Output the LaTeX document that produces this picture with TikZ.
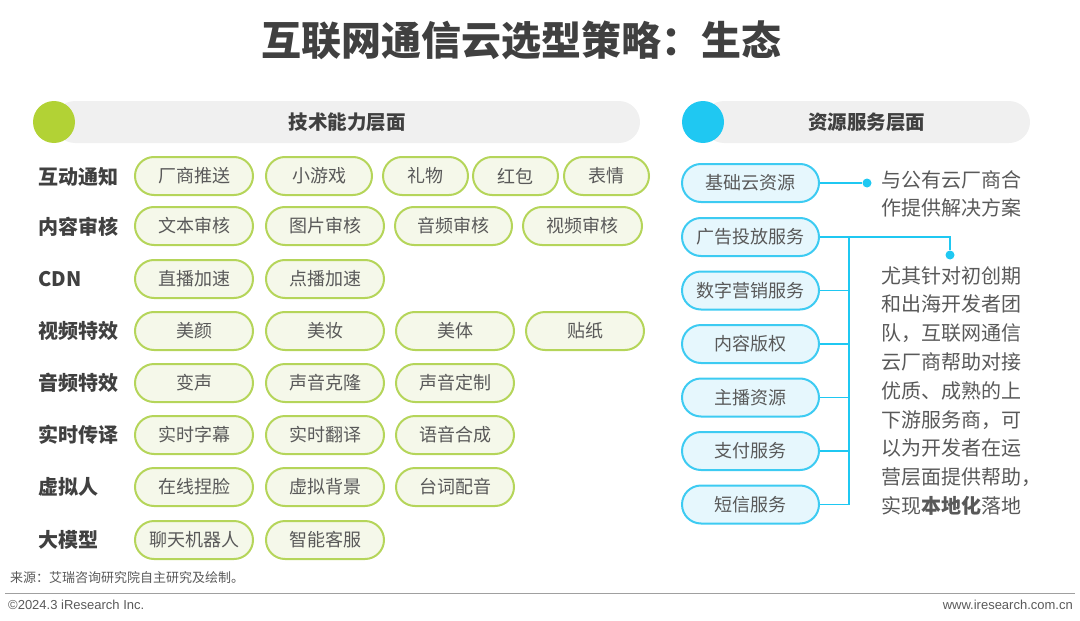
\documentclass[tikz,border=0pt]{standalone}
\usepackage{fontspec}
\setmainfont{Noto Sans CJK SC}
\newfontfamily\footfont{Liberation Sans}
\usepackage{tikz}
\usetikzlibrary{positioning}
\definecolor{pillgreen}{HTML}{B5D55A}
\definecolor{pillfill}{HTML}{F5F8EA}
\definecolor{dotgreen}{HTML}{B2D235}
\definecolor{pillblue}{HTML}{3DCBF2}
\definecolor{bluefill}{HTML}{E6F7FD}
\definecolor{dotblue}{HTML}{1FC8F2}
\definecolor{bargray}{HTML}{F0F0F0}
\definecolor{txtgray}{HTML}{595959}
\definecolor{lblgray}{HTML}{404040}
\definecolor{rulegray}{HTML}{A0A0A0}
\tikzstyle{pill}=[draw=pillgreen,fill=pillfill,line width=2pt,rectangle,rounded corners=19pt,minimum width=118pt,minimum height=38pt,inner sep=0pt,text=txtgray,font=\fontsize{18}{20}\selectfont]
\tikzstyle{bpill}=[pill,draw=pillblue,fill=bluefill,minimum width=137pt]
\tikzstyle{lbl}=[anchor=west,inner sep=0pt,text=lblgray,font=\bfseries\fontsize{20}{22}\selectfont]
\tikzstyle{bar}=[fill=bargray,rectangle,rounded corners=21pt,minimum height=42pt,inner sep=0pt,text=lblgray,font=\bfseries\fontsize{19.5}{21}\selectfont]
\tikzstyle{ball}=[circle,inner sep=0pt,minimum size=42pt]
\tikzstyle{dot}=[circle,fill=dotblue,inner sep=0pt,minimum size=9pt]
\tikzstyle{link}=[draw=dotblue,line width=1.5pt]
\tikzstyle{note}=[anchor=north west,inner sep=0pt,align=left,text=txtgray,font=\fontsize{20}{28.8}\selectfont]

\begin{document}
\begin{tikzpicture}[x=1pt,y=-1pt]
  \useasboundingbox (0,0) rectangle (1080,621);
  \node[text=lblgray,font=\bfseries\fontsize{40}{42}\selectfont] (title) at (521,40) {互联网通信云选型策略：生态};

  % left header
  \node[bar,minimum width=586pt] (techbar) at (347,122) {技术能力层面};
  \node[ball,fill=dotgreen] (techball) at (54,122) {};
  % right header
  \node[bar,minimum width=327pt] (resbar) at (866.5,122) {资源服务层面};
  \node[ball,fill=dotblue] (resball) at (703,122) {};

  % 互动通知
  \node[lbl] (l1) at (38,177) {互动通知};
  \node[pill] (push) at (194,176) {厂商推送};
  \node[pill,minimum width=106pt,right of=push,node distance=125pt] (game) {小游戏};
  \node[pill,minimum width=85pt,right of=game,node distance=106.5pt] (gift) {礼物};
  \node[pill,minimum width=85pt,right of=gift,node distance=90pt] (redpack) {红包};
  \node[pill,minimum width=85pt,right of=redpack,node distance=91pt] (emoji) {表情};

  % 内容审核
  \node[lbl] (l2) at (38,227) {内容审核};
  \node[pill] (txtaudit) at (194,226) {文本审核};
  \node[pill,right of=txtaudit,node distance=131pt] (imgaudit) {图片审核};
  \node[pill,minimum width=117pt,right of=imgaudit,node distance=128.5pt] (sndaudit) {音频审核};
  \node[pill,minimum width=119pt,right of=sndaudit,node distance=129pt] (vidaudit) {视频审核};

  % CDN
  \node[lbl] (l3) at (38,279) {CDN};
  \node[pill] (livecdn) at (194,279) {直播加速};
  \node[pill,right of=livecdn,node distance=131pt] (vodcdn) {点播加速};

  % 视频特效
  \node[lbl] (l4) at (38,331) {视频特效};
  \node[pill] (beauty) at (194,331) {美颜};
  \node[pill,right of=beauty,node distance=131pt] (makeup) {美妆};
  \node[pill,right of=makeup,node distance=130pt] (body) {美体};
  \node[pill,right of=body,node distance=130pt] (sticker) {贴纸};

  % 音频特效
  \node[lbl] (l5) at (38,383) {音频特效};
  \node[pill] (voice) at (194,383) {变声};
  \node[pill,right of=voice,node distance=131pt] (clone) {声音克隆};
  \node[pill,right of=clone,node distance=130pt] (custom) {声音定制};

  % 实时传译
  \node[lbl] (l6) at (38,435) {实时传译};
  \node[pill] (caption) at (194,435) {实时字幕};
  \node[pill,right of=caption,node distance=131pt] (translate) {实时翻译};
  \node[pill,right of=translate,node distance=130pt] (tts) {语音合成};

  % 虚拟人
  \node[lbl] (l7) at (38,487) {虚拟人};
  \node[pill] (face) at (194,487) {在线捏脸};
  \node[pill,right of=face,node distance=131pt] (bg) {虚拟背景};
  \node[pill,right of=bg,node distance=130pt] (dub) {台词配音};

  % 大模型
  \node[lbl] (l8) at (38,540) {大模型};
  \node[pill] (chatbot) at (194,540) {聊天机器人};
  \node[pill,right of=chatbot,node distance=131pt] (service) {智能客服};

  % resource column
  \node[bpill] (cloud) at (750.5,183) {基础云资源};
  \node[bpill,below of=cloud,node distance=54pt] (ads) {广告投放服务};
  \node[bpill,below of=ads,node distance=53.5pt] (mkt) {数字营销服务};
  \node[bpill,below of=mkt,node distance=53.5pt] (copyright) {内容版权};
  \node[bpill,below of=copyright,node distance=53.5pt] (anchor) {主播资源};
  \node[bpill,below of=anchor,node distance=53.5pt] (pay) {支付服务};
  \node[bpill,below of=pay,node distance=53.5pt] (sms) {短信服务};

  \node[dot] (dota) at (867,183) {};
  \node[dot] (dotb) at (950,255) {};
  \coordinate (bus) at (849,237);
  \draw[link] (cloud.east) -- (dota);
  \draw[link] (ads.east) -- (bus) -| (dotb);
  \draw[link] (bus) -- (bus |- sms.east);
  \draw[link] (mkt.east) -- (mkt.east -| bus);
  \draw[link] (copyright.east) -- (copyright.east -| bus);
  \draw[link] (anchor.east) -- (anchor.east -| bus);
  \draw[link] (pay.east) -- (pay.east -| bus);
  \draw[link] (sms.east) -- (sms.east -| bus);

  \node[note] (notea) at (881,170) {与公有云厂商合\\作提供解决方案};
  \node[note] (noteb) at (881,266) {尤其针对初创期\\和出海开发者团\\队，互联网通信\\云厂商帮助对接\\优质、成熟的上\\下游服务商，可\\以为开发者在运\\营层面提供帮助，\\实现\textbf{本地化}落地};

  % footer
  \node[anchor=west,inner sep=0pt,text=txtgray,font=\fontsize{13}{15}\selectfont] (source) at (10,578) {来源：艾瑞咨询研究院自主研究及绘制。};
  \coordinate (rulel) at (5,593);
  \coordinate (ruler) at (1075,593);
  \draw[rulegray,line width=1pt] (rulel) -- (ruler);
  \node[anchor=west,inner sep=0pt,text=txtgray,font=\footfont\fontsize{13}{15}\selectfont] (copy) at (8,605) {©2024.3 iResearch Inc.};
  \node[anchor=east,inner sep=0pt,text=txtgray,font=\footfont\fontsize{13}{15}\selectfont] (url) at (1073,605) {www.iresearch.com.cn};
\end{tikzpicture}
\end{document}
